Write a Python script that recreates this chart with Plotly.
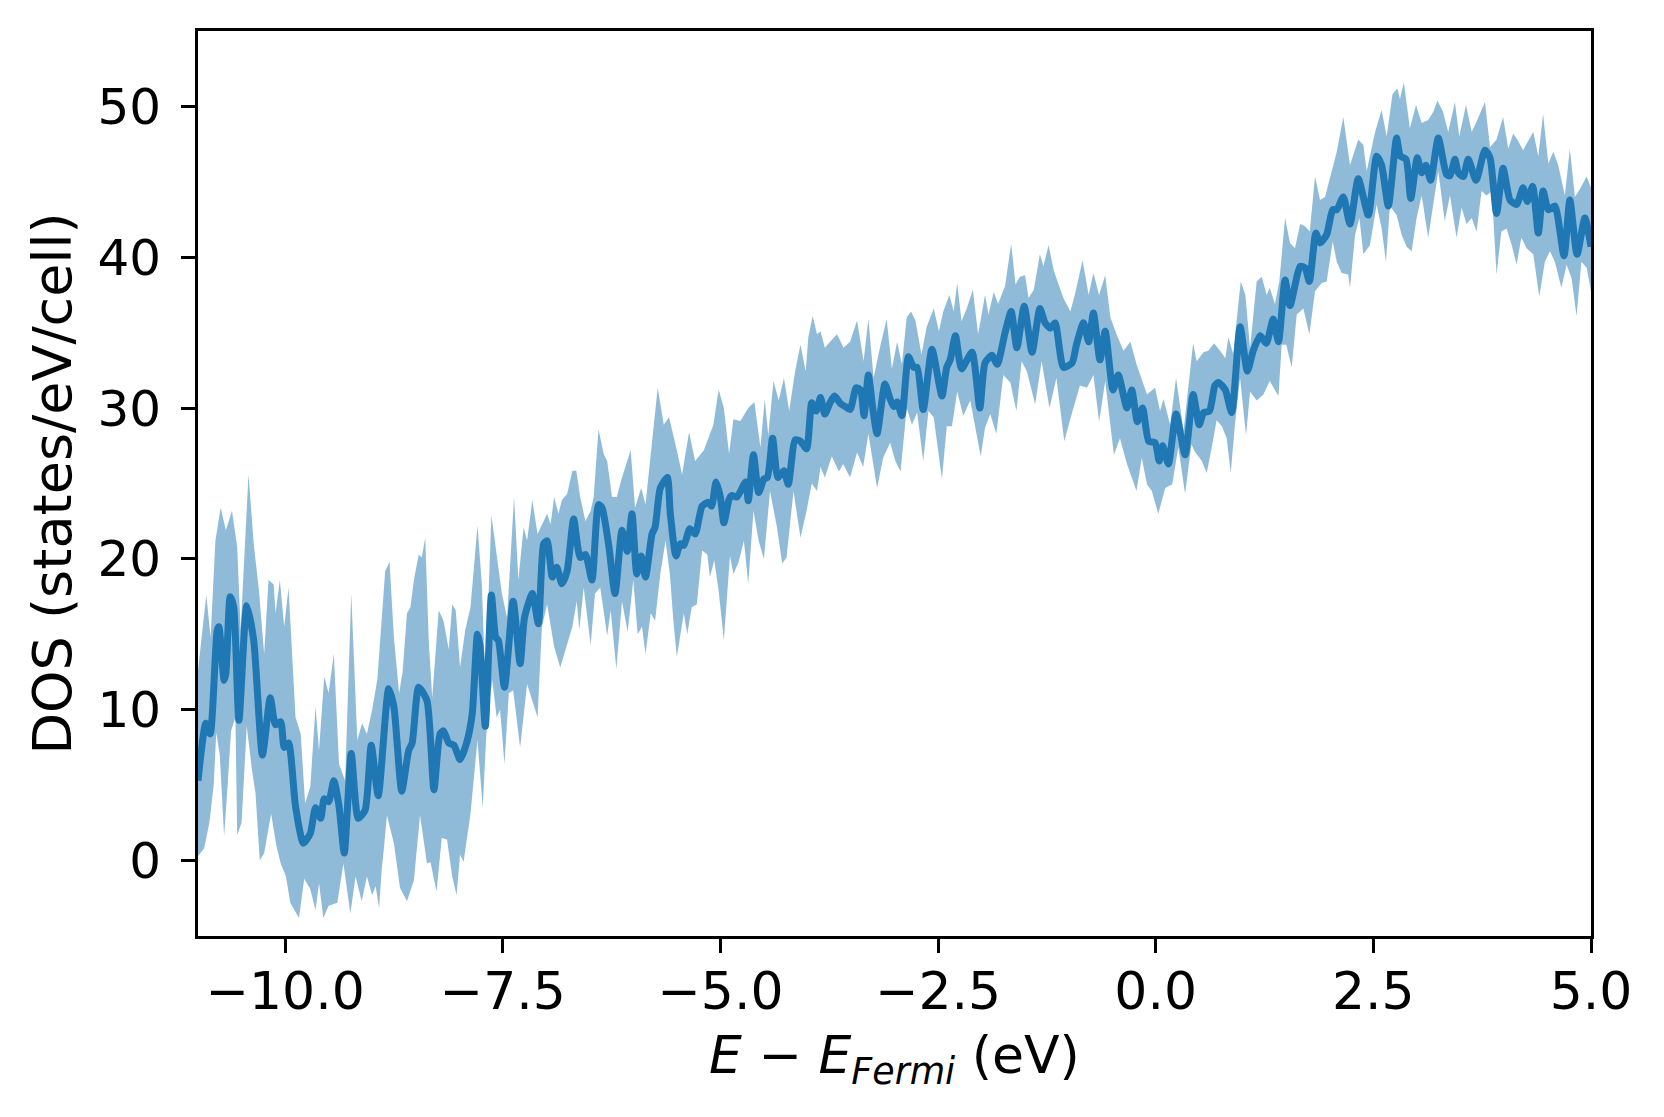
import plotly.graph_objects as go

# mean DOS curve
energy_line = [
    -11.0, -10.91, -10.86, -10.78, -10.76, -10.70, -10.68, -10.63, -10.59, -10.53,
    -10.44, -10.36, -10.26, -10.17, -10.11, -10.05, -10.01, -9.96, -9.88, -9.79,
    -9.71, -9.65, -9.59, -9.55, -9.50, -9.44, -9.38, -9.32, -9.24, -9.16,
    -9.08, -9.01, -8.93, -8.81, -8.75, -8.66, -8.58, -8.54, -8.465, -8.37,
    -8.29, -8.22, -8.18, -8.12, -8.06, -7.99, -7.91, -7.85, -7.79, -7.76,
    -7.70, -7.63, -7.58, -7.55, -7.48, -7.38, -7.30, -7.25, -7.16, -7.09,
    -7.03, -6.99, -6.93, -6.88, -6.82, -6.76, -6.685, -6.61, -6.55, -6.475,
    -6.40, -6.36, -6.28, -6.21, -6.13, -6.07, -6.015, -5.96, -5.91, -5.86,
    -5.785, -5.75, -5.69, -5.61, -5.575, -5.51, -5.46, -5.42, -5.35, -5.29,
    -5.21, -5.14, -5.10, -5.05, -5.00, -4.96, -4.90, -4.87, -4.81, -4.71,
    -4.68, -4.62, -4.56, -4.50, -4.46, -4.40, -4.34, -4.27, -4.22, -4.14,
    -4.08, -4.01, -3.95, -3.90, -3.85, -3.80, -3.74, -3.69, -3.62, -3.565,
    -3.51, -3.44, -3.39, -3.35, -3.30, -3.25, -3.20, -3.11, -3.05, -3.01,
    -2.97, -2.915, -2.84, -2.78, -2.74, -2.67, -2.57, -2.455, -2.40, -2.36,
    -2.30, -2.23, -2.11, -2.02, -1.96, -1.88, -1.82, -1.73, -1.66, -1.595,
    -1.51, -1.42, -1.33, -1.27, -1.21, -1.155, -1.06, -0.96, -0.91, -0.83,
    -0.77, -0.715, -0.64, -0.58, -0.49, -0.43, -0.33, -0.275, -0.21, -0.15,
    -0.08, -0.007, 0.04, 0.08, 0.146, 0.234, 0.338, 0.43, 0.50, 0.55,
    0.617, 0.68, 0.72, 0.80, 0.873, 0.97, 1.053, 1.12, 1.20, 1.27,
    1.35, 1.41, 1.486, 1.543, 1.66, 1.715, 1.765, 1.84, 1.888, 1.964,
    2.033, 2.08, 2.155, 2.232, 2.327, 2.442, 2.538, 2.595, 2.672, 2.767,
    2.81, 2.875, 2.93, 3.005, 3.055, 3.104, 3.158, 3.246, 3.34, 3.38,
    3.437, 3.476, 3.533, 3.59, 3.68, 3.782, 3.84, 3.915, 3.99, 4.07,
    4.145, 4.22, 4.268, 4.33, 4.395, 4.45, 4.51, 4.585, 4.69, 4.757,
    4.84, 4.93, 5.0,
]
dos_line = [
    5.3, 9.1, 8.4, 15.25, 15.5, 11.95, 12.4, 17.5, 16.8, 9.3,
    16.9, 14.6, 7.0, 10.8, 9.0, 9.2, 7.5, 7.8, 3.6, 1.15,
    1.8, 3.5, 2.8, 4.1, 3.9, 5.3, 3.6, 0.5, 7.1, 2.8,
    3.35, 7.65, 4.3, 11.4, 10.2, 4.6, 7.3, 7.8, 11.5, 10.6,
    4.7, 8.4, 8.6, 7.8, 7.65, 6.7, 7.9, 9.75, 15.0, 14.2,
    8.9, 17.6, 14.8, 14.6, 11.5, 17.2, 13.05, 16.1, 17.7, 15.7,
    21.0, 21.2, 18.8, 19.45, 18.35, 19.2, 22.65, 20.1, 20.3, 18.6,
    23.6, 23.4, 20.8, 17.7, 21.9, 20.5, 23.0, 19.0, 20.2, 18.8,
    21.65, 22.1, 24.7, 25.4, 23.0, 20.2, 21.0, 20.9, 22.0, 21.65,
    23.5, 23.75, 23.5, 25.1, 24.1, 22.4, 23.95, 24.2, 24.1, 25.1,
    23.85, 26.9, 24.4, 25.3, 25.4, 28.0, 25.4, 25.85, 24.95, 27.9,
    27.8, 27.3, 30.35, 29.8, 30.7, 29.6, 30.35, 30.8, 30.3, 30.1,
    29.9, 31.35, 31.2, 29.5, 32.2, 30.0, 28.3, 31.6, 30.6, 30.1,
    30.4, 29.5, 33.4, 32.7, 32.7, 29.9, 33.9, 30.8, 32.7, 33.2,
    34.8, 32.6, 33.7, 30.0, 33.0, 33.5, 32.9, 35.0, 36.4, 34.0,
    36.75, 33.7, 36.6, 35.65, 35.3, 35.65, 32.7, 33.0, 34.2, 35.65,
    34.4, 36.3, 33.2, 35.1, 31.2, 32.2, 30.0, 31.2, 29.1, 30.0,
    27.8, 27.7, 26.5, 27.5, 26.3, 29.6, 26.9, 30.9, 28.9, 29.7,
    29.8, 31.5, 31.7, 31.2, 29.7, 35.4, 32.45, 33.8, 34.8, 34.3,
    35.9, 34.4, 38.5, 36.8, 39.4, 39.3, 38.4, 41.6, 40.95, 41.5,
    43.15, 43.15, 44.0, 42.2, 45.2, 42.8, 46.7, 46.1, 43.4, 47.9,
    46.7, 46.5, 43.9, 46.6, 45.6, 46.1, 45.1, 47.9, 45.5, 45.4,
    46.5, 45.6, 45.35, 46.5, 45.1, 47.1, 46.6, 42.9, 45.9, 43.8,
    43.5, 44.6, 43.7, 44.7, 41.6, 44.4, 43.15, 43.4, 40.1, 43.8,
    40.2, 42.6, 40.7,
]

# upper edge of the shaded band
energy_upper = [
    -11.0, -10.905, -10.855, -10.80, -10.74, -10.68, -10.61, -10.55, -10.51, -10.42,
    -10.36, -10.30, -10.24, -10.19, -10.13, -10.11, -10.06, -10.01, -9.96, -9.88,
    -9.82, -9.77, -9.71, -9.65, -9.61, -9.55, -9.50, -9.44, -9.38, -9.31,
    -9.24, -9.17, -9.115, -9.06, -9.00, -8.94, -8.85, -8.80, -8.75, -8.69,
    -8.65, -8.60, -8.56, -8.52, -8.465, -8.43, -8.39, -8.35, -8.31, -8.235,
    -8.18, -8.12, -8.08, -8.04, -7.99, -7.93, -7.87, -7.79, -7.74, -7.70,
    -7.63, -7.56, -7.51, -7.45, -7.37, -7.32, -7.26, -7.22, -7.16, -7.10,
    -7.05, -6.99, -6.95, -6.91, -6.86, -6.82, -6.76, -6.70, -6.655, -6.61,
    -6.55, -6.49, -6.455, -6.40, -6.34, -6.30, -6.245, -6.19, -6.13, -6.03,
    -5.98, -5.91, -5.86, -5.72, -5.65, -5.59, -5.50, -5.44, -5.36, -5.29,
    -5.19, -5.08, -5.02, -4.96, -4.90, -4.85, -4.77, -4.68, -4.61, -4.54,
    -4.49, -4.45, -4.39, -4.33, -4.27, -4.21, -4.14, -4.08, -4.02, -3.99,
    -3.94, -3.89, -3.85, -3.80, -3.74, -3.66, -3.585, -3.51, -3.43, -3.355,
    -3.30, -3.24, -3.16, -3.09, -3.03, -2.97, -2.915, -2.86, -2.81, -2.76,
    -2.69, -2.63, -2.55, -2.49, -2.44, -2.37, -2.32, -2.28, -2.23, -2.17,
    -2.10, -2.04, -1.96, -1.92, -1.86, -1.81, -1.73, -1.66, -1.61, -1.56,
    -1.50, -1.46, -1.40, -1.33, -1.29, -1.23, -1.17, -1.06, -0.98, -0.925,
    -0.84, -0.77, -0.715, -0.65, -0.58, -0.52, -0.45, -0.37, -0.29, -0.22,
    -0.10, -0.007, 0.05, 0.09, 0.166, 0.234, 0.32, 0.43, 0.47, 0.55,
    0.605, 0.67, 0.74, 0.80, 0.835, 0.89, 0.977, 1.03, 1.084, 1.16,
    1.218, 1.275, 1.31, 1.37, 1.42, 1.486, 1.543, 1.60, 1.66, 1.715,
    1.77, 1.83, 1.888, 1.945, 2.002, 2.08, 2.155, 2.232, 2.327, 2.385,
    2.423, 2.52, 2.595, 2.653, 2.72, 2.775, 2.806, 2.85, 2.92, 2.99,
    3.055, 3.13, 3.19, 3.235, 3.30, 3.36, 3.437, 3.487, 3.564, 3.63,
    3.686, 3.782, 3.84, 3.915, 3.99, 4.05, 4.107, 4.164, 4.22, 4.28,
    4.337, 4.395, 4.45, 4.51, 4.567, 4.624, 4.70, 4.757, 4.815, 4.87,
    4.95, 5.0,
]
dos_upper = [
    12.6, 17.6, 14.8, 21.2, 23.4, 21.9, 23.2, 20.8, 15.3, 25.6,
    21.0, 17.9, 13.7, 18.6, 18.3, 16.4, 18.6, 15.5, 18.1, 9.5,
    8.4, 3.8, 4.9, 10.2, 7.3, 12.2, 11.1, 13.7, 6.4, 5.3,
    17.7, 8.0, 9.1, 8.4, 10.0, 12.0, 19.2, 19.8, 14.8, 11.1,
    12.5, 16.4, 16.8, 18.6, 20.3, 20.1, 21.4, 14.6, 10.8, 16.6,
    15.9, 14.0, 17.0, 16.6, 12.8, 15.3, 16.8, 22.2, 18.35, 11.7,
    22.9, 19.7, 17.7, 16.1, 24.1, 18.6, 22.1, 21.2, 23.9, 21.65,
    22.3, 23.0, 22.3, 24.1, 23.0, 23.9, 24.3, 25.85, 25.85, 24.1,
    22.5, 23.2, 24.1, 28.6, 26.95, 26.5, 24.1, 24.1, 25.4, 27.2,
    23.4, 24.7, 23.6, 31.35, 28.9, 29.4, 27.2, 25.6, 28.4, 26.5,
    27.2, 28.9, 31.24, 30.0, 26.95, 29.26, 29.15, 30.0, 30.4, 27.4,
    30.6, 28.2, 31.8, 30.5, 32.0, 29.8, 32.5, 34.2, 32.45, 34.7,
    36.1, 34.9, 35.1, 34.0, 34.4, 34.9, 34.0, 34.4, 35.8, 33.1,
    35.9, 32.0, 34.2, 35.9, 32.6, 34.4, 32.9, 36.0, 36.4, 35.8,
    33.55, 35.4, 36.6, 35.1, 36.4, 37.5, 36.4, 38.3, 35.75, 36.6,
    37.85, 34.9, 37.5, 36.2, 37.7, 36.9, 38.1, 40.9, 38.2, 38.7,
    38.8, 37.3, 37.85, 40.2, 39.4, 40.8, 39.1, 37.3, 36.4, 37.6,
    39.8, 37.5, 38.96, 37.5, 38.8, 36.0, 34.9, 33.8, 34.4, 32.9,
    30.9, 31.35, 29.8, 30.6, 28.9, 32.0, 28.5, 34.3, 33.1, 33.7,
    33.8, 34.3, 33.8, 33.3, 34.7, 33.6, 38.4, 37.5, 34.0, 38.4,
    38.7, 37.5, 37.97, 36.9, 38.4, 42.6, 40.95, 40.6, 42.2, 42.05,
    41.7, 45.35, 43.8, 44.0, 45.25, 47.0, 49.3, 46.1, 47.8, 47.45,
    45.7, 48.3, 49.76, 48.0, 50.8, 51.2, 50.5, 51.6, 48.55, 50.1,
    48.9, 49.1, 49.65, 50.4, 49.65, 48.3, 50.3, 48.0, 50.1, 48.3,
    49.0, 50.3, 47.3, 47.8, 49.3, 47.2, 48.2, 47.7, 47.1, 47.7,
    48.3, 46.7, 49.5, 46.2, 47.0, 46.1, 44.1, 47.2, 44.0, 44.5,
    45.35, 44.6,
]

# lower edge of the shaded band
energy_lower = [
    -11.0, -10.93, -10.87, -10.82, -10.79, -10.75, -10.70, -10.66, -10.62, -10.57,
    -10.55, -10.50, -10.44, -10.38, -10.34, -10.29, -10.24, -10.16, -10.10, -10.05,
    -9.99, -9.94, -9.84, -9.78, -9.71, -9.65, -9.61, -9.56, -9.50, -9.40,
    -9.33, -9.25, -9.19, -9.12, -9.06, -9.00, -8.96, -8.92, -8.89, -8.87,
    -8.83, -8.75, -8.68, -8.60, -8.52, -8.45, -8.37, -8.33, -8.26, -8.20,
    -8.14, -8.08, -8.03, -7.99, -7.95, -7.87, -7.79, -7.73, -7.68, -7.62,
    -7.57, -7.53, -7.48, -7.43, -7.38, -7.30, -7.22, -7.16, -7.10, -7.05,
    -6.99, -6.91, -6.84, -6.76, -6.70, -6.65, -6.62, -6.57, -6.49, -6.44,
    -6.38, -6.30, -6.26, -6.195, -6.13, -6.065, -6.00, -5.95, -5.90, -5.86,
    -5.80, -5.75, -5.69, -5.63, -5.58, -5.54, -5.50, -5.42, -5.38, -5.33,
    -5.27, -5.21, -5.15, -5.12, -5.07, -5.02, -4.96, -4.89, -4.85, -4.79,
    -4.73, -4.68, -4.62, -4.56, -4.50, -4.43, -4.35, -4.29, -4.24, -4.16,
    -4.08, -4.01, -3.95, -3.89, -3.85, -3.80, -3.72, -3.64, -3.59, -3.51,
    -3.43, -3.36, -3.30, -3.20, -3.13, -3.05, -2.99, -2.93, -2.86, -2.80,
    -2.74, -2.67, -2.61, -2.55, -2.455, -2.40, -2.34, -2.28, -2.21, -2.13,
    -2.01, -1.96, -1.90, -1.83, -1.75, -1.67, -1.60, -1.54, -1.48, -1.385,
    -1.31, -1.22, -1.14, -1.05, -0.96, -0.87, -0.79, -0.715, -0.65, -0.58,
    -0.48, -0.41, -0.33, -0.22, -0.16, -0.10, -0.045, 0.03, 0.11, 0.19,
    0.26, 0.338, 0.41, 0.45, 0.53, 0.586, 0.644, 0.70, 0.76, 0.816,
    0.862, 0.91, 0.969, 1.038, 1.084, 1.16, 1.237, 1.31, 1.41, 1.447,
    1.50, 1.562, 1.62, 1.696, 1.765, 1.83, 1.907, 1.964, 2.033, 2.08,
    2.136, 2.21, 2.232, 2.29, 2.34, 2.385, 2.46, 2.538, 2.595, 2.645,
    2.69, 2.767, 2.825, 2.882, 2.94, 2.997, 3.055, 3.13, 3.19, 3.246,
    3.32, 3.38, 3.456, 3.514, 3.57, 3.63, 3.686, 3.743, 3.80, 3.86,
    3.915, 3.97, 4.03, 4.09, 4.145, 4.20, 4.26, 4.337, 4.406, 4.47,
    4.528, 4.585, 4.66, 4.72, 4.777, 4.834, 4.89, 4.95, 5.0,
]
dos_lower = [
    0.3, 0.8, 2.5, 5.0, 8.5, 7.0, 1.6, 5.0, 8.6, 9.5,
    1.7, 2.5, 8.9, 6.0, 4.5, 0.0, 0.5, 3.1, 1.0, -0.2,
    -1.05, -2.8, -3.8, -1.2, -1.9, -3.3, -1.5, -3.8, -3.0, -2.8,
    -0.2, -3.5, -1.05, -2.7, -1.05, -2.3, -1.7, -3.15, -0.6, 0.5,
    3.0, 1.15, -1.8, -2.7, -1.3, 3.0, -0.2, -0.1, -2.05, 1.5,
    1.4, -1.05, -2.3, 0.4, -0.1, 3.1, 8.0, 3.5, 9.3, 11.95,
    9.5, 10.0, 6.4, 11.1, 11.3, 7.5, 11.7, 10.6, 9.5, 15.5,
    17.0, 14.2, 12.8, 14.4, 15.5, 17.2, 15.3, 18.1, 14.3, 17.7,
    18.1, 14.9, 16.6, 12.7, 17.2, 15.15, 18.6, 15.0, 15.5, 13.7,
    16.4, 15.9, 19.0, 21.2, 19.0, 15.9, 13.5, 16.4, 15.0, 16.8,
    17.0, 20.55, 20.3, 18.8, 19.9, 17.9, 14.6, 20.2, 19.0, 19.8,
    21.2, 18.35, 23.2, 21.2, 20.0, 24.5, 22.1, 19.7, 20.1, 24.5,
    21.4, 23.2, 25.0, 24.5, 26.1, 25.4, 26.8, 25.8, 26.3, 25.4,
    27.05, 26.1, 28.3, 24.7, 26.7, 27.7, 26.5, 25.8, 30.0, 28.9,
    29.7, 26.5, 29.8, 29.4, 25.3, 28.8, 28.8, 31.1, 29.5, 30.5,
    26.8, 28.7, 29.6, 28.3, 32.2, 31.7, 29.8, 33.1, 32.45, 30.25,
    33.1, 30.0, 32.0, 27.8, 29.7, 31.5, 31.35, 32.2, 29.1, 31.8,
    26.9, 28.0, 26.3, 24.5, 26.7, 24.95, 24.5, 23.0, 24.7, 24.95,
    27.4, 24.3, 27.6, 27.1, 26.5, 25.7, 27.4, 29.2, 28.8, 28.0,
    25.7, 28.9, 32.0, 28.2, 31.1, 30.5, 30.9, 31.8, 30.8, 34.2,
    34.2, 32.7, 36.2, 36.6, 34.9, 37.75, 38.3, 38.4, 41.05, 39.7,
    38.96, 38.85, 37.97, 41.5, 42.6, 40.2, 40.8, 43.5, 41.9, 39.7,
    43.4, 42.8, 41.5, 40.7, 40.4, 42.6, 44.1, 41.3, 43.7, 45.7,
    42.4, 44.1, 41.3, 43.3, 42.2, 42.6, 41.7, 44.4, 44.1, 44.4,
    38.85, 41.7, 41.9, 40.8, 39.5, 41.3, 40.6, 40.2, 37.4, 39.7,
    40.4, 39.7, 37.97, 39.5, 38.6, 36.1, 39.7, 39.3, 37.75,
]

x_ticks = [-10.0, -7.5, -5.0, -2.5, 0.0, 2.5, 5.0]
x_tick_labels = ["\u221210.0", "\u22127.5", "\u22125.0", "\u22122.5", "0.0", "2.5", "5.0"]
y_ticks = [0, 10, 20, 30, 40, 50]
y_tick_labels = ["0", "10", "20", "30", "40", "50"]

blue = "#1f77b4"
font = "DejaVu Sans"

fig = go.Figure()

# band: upper edge left->right, then lower edge right->left
fig.add_trace(go.Scatter(
    x=energy_upper + energy_lower[::-1],
    y=dos_upper + dos_lower[::-1],
    fill="toself", fillcolor="rgba(31,119,180,0.5)",
    line=dict(width=0), mode="lines", hoverinfo="skip", showlegend=False,
))
fig.add_trace(go.Scatter(
    x=energy_line, y=dos_line, mode="lines",
    line=dict(color=blue, width=7, shape="spline", smoothing=0.6),
    showlegend=False,
))

axis_common = dict(
    showgrid=False, zeroline=False,
    showline=True, linecolor="black", linewidth=3, mirror=True,
    ticks="outside", ticklen=14, tickwidth=3, tickcolor="black",
)
fig.update_xaxes(range=[-11, 5], tickvals=x_ticks, ticktext=x_tick_labels,
                 ticklabelstandoff=-6,
                 tickfont=dict(family=font, size=52, color="black"),
                 **axis_common)
fig.update_yaxes(range=[-5, 55], tickvals=y_ticks, ticktext=y_tick_labels,
                 ticklabelstandoff=10,
                 tickfont=dict(family=font, size=50, color="black"),
                 **axis_common)

fig.add_annotation(
    text="<i>E</i> \u2212 <i>E</i><sub><i>Fermi</i></sub> (eV)",
    xref="paper", yref="paper", x=0.5, y=0, yshift=-123,
    xanchor="center", yanchor="middle", showarrow=False,
    font=dict(family=font, size=52, color="black"),
)
fig.add_annotation(
    text="DOS (states/eV/cell)",
    xref="paper", yref="paper", x=0, y=0.5, xshift=-146,
    xanchor="center", yanchor="middle", textangle=-90, showarrow=False,
    font=dict(family=font, size=54, color="black"),
)

fig.update_layout(
    width=1656, height=1109,
    margin=dict(l=189.5, r=73, t=23, b=181, pad=0),
    paper_bgcolor="white", plot_bgcolor="white",
)

fig.write_html("out.html")
